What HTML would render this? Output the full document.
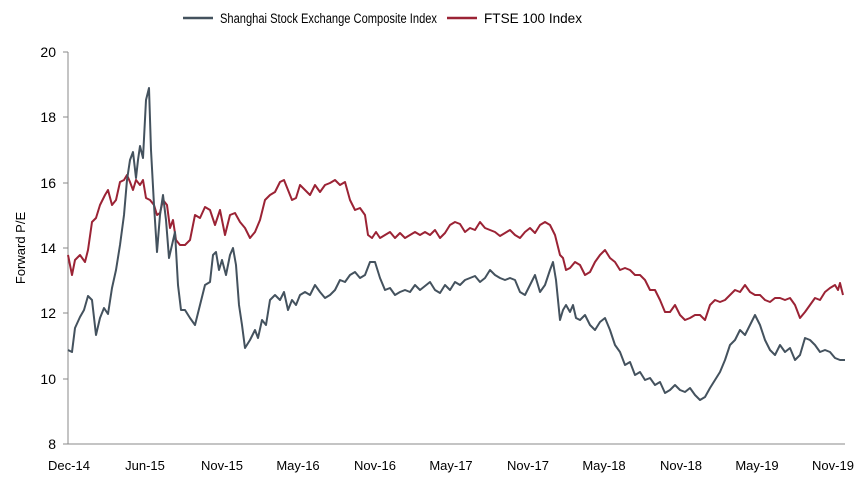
<!DOCTYPE html>
<html><head><meta charset="utf-8"><style>
body{margin:0;background:#fff}
svg{display:block;font-family:"Liberation Sans",sans-serif}
</style></head><body>
<svg width="862" height="483" viewBox="0 0 862 483">
<g fill="#000" font-size="14">
<line x1="183" y1="18" x2="213" y2="18" stroke="#44525e" stroke-width="2.5"/>
<text x="220" y="23" font-size="13.5" textLength="217" lengthAdjust="spacingAndGlyphs">Shanghai Stock Exchange Composite Index</text>
<line x1="447" y1="18" x2="477" y2="18" stroke="#9b2335" stroke-width="2.5"/>
<text x="484" y="23" font-size="13.5" textLength="98" lengthAdjust="spacingAndGlyphs">FTSE 100 Index</text>
</g>
<g stroke="#888" stroke-width="1">
<line x1="68" y1="52" x2="68" y2="444"/>
<line x1="68" y1="444" x2="845" y2="444"/>
<line x1="63" y1="52" x2="68" y2="52"/><line x1="63" y1="117" x2="68" y2="117"/>
<line x1="63" y1="183" x2="68" y2="183"/><line x1="63" y1="248" x2="68" y2="248"/>
<line x1="63" y1="313" x2="68" y2="313"/><line x1="63" y1="379" x2="68" y2="379"/>
<line x1="63" y1="444" x2="68" y2="444"/>
</g>
<g font-size="14" text-anchor="end" fill="#000">
<text x="56" y="57">20</text><text x="56" y="122">18</text><text x="56" y="188">16</text>
<text x="56" y="253">14</text><text x="56" y="318">12</text><text x="56" y="384">10</text><text x="56" y="449">8</text>
</g>
<g font-size="13" text-anchor="middle" fill="#000">
<text x="69" y="470">Dec-14</text><text x="145" y="470">Jun-15</text><text x="222" y="470">Nov-15</text>
<text x="298" y="470">May-16</text><text x="375" y="470">Nov-16</text><text x="451" y="470">May-17</text>
<text x="528" y="470">Nov-17</text><text x="604" y="470">May-18</text><text x="681" y="470">Nov-18</text>
<text x="757" y="470">May-19</text><text x="833" y="470">Nov-19</text>
</g>
<text transform="translate(25,248) rotate(-90)" font-size="13" text-anchor="middle">Forward P/E</text>
<polyline fill="none" stroke="#9b2335" stroke-width="2" stroke-linejoin="round" points="68,255 72,275 75,260 80,255 85,262 88,250 92,222 96,218 100,205 105,195 108,190 112,205 116,200 120,182 124,180 127,175 130,182 133,190 136,180 140,185 143,180 146,198 150,200 154,205 157,215 160,213 163,200 167,205 170,228 173,220 176,240 180,245 185,245 190,240 195,215 200,218 205,207 210,210 215,225 220,210 225,235 230,215 235,213 240,222 245,228 250,238 255,232 260,220 265,200 270,195 275,192 280,182 284,180 288,190 292,200 296,198 300,185 305,190 310,195 315,185 320,192 325,185 330,183 335,180 340,185 345,182 350,200 355,210 360,208 365,215 368,235 372,238 376,232 380,238 385,235 390,232 395,238 400,233 405,238 410,235 415,232 420,235 425,232 430,235 435,230 440,238 445,233 450,225 455,222 460,224 465,232 470,228 475,230 480,222 485,228 490,230 495,232 500,236 505,233 510,230 515,235 520,238 525,232 530,228 535,233 540,225 545,222 550,225 555,235 560,255 563,258 566,270 570,268 575,262 580,265 585,275 590,272 595,262 600,255 605,250 610,258 615,262 620,270 625,268 630,270 635,275 640,275 645,280 650,290 655,290 660,300 665,312 670,312 675,305 680,315 685,320 690,318 695,315 700,315 705,320 710,305 715,300 720,302 725,300 730,295 735,290 740,292 745,285 750,292 755,295 760,295 765,300 770,302 775,298 780,298 785,300 790,298 795,305 800,318 805,312 810,305 815,298 820,300 825,292 830,288 835,285 838,290 840,283 843,295"/>
<polyline fill="none" stroke="#44525e" stroke-width="2" stroke-linejoin="round" points="68,350 72,352 75,328 80,317 84,310 88,296 92,300 96,335 100,318 104,308 108,314 112,288 116,270 120,245 124,215 127,180 130,160 133,152 136,178 138,160 140,146 143,158 146,100 149,88 151,150 154,205 157,252 160,215 163,195 166,220 169,258 172,245 175,232 178,285 181,310 185,310 190,318 195,325 200,305 205,285 210,282 213,255 216,252 219,270 222,260 226,275 230,255 233,248 236,265 239,305 242,325 245,348 250,340 255,330 258,338 262,320 266,325 270,300 275,295 280,300 284,292 288,310 292,300 296,305 300,295 305,292 310,295 315,285 320,292 325,298 330,295 335,290 340,280 345,282 350,275 355,272 360,278 365,275 370,262 375,262 380,278 385,290 390,288 395,295 400,292 405,290 410,292 415,285 420,290 425,286 430,282 435,290 440,293 445,285 450,290 455,282 460,285 465,280 470,278 475,276 480,282 485,278 490,270 495,275 500,278 505,280 510,278 515,280 520,292 525,295 530,285 535,275 540,292 545,285 550,270 553,262 556,280 560,320 563,310 566,305 570,312 573,305 576,318 580,320 585,315 590,325 595,330 600,322 605,318 610,330 615,345 620,352 625,365 630,362 635,375 640,372 645,380 650,378 655,385 660,382 665,393 670,390 675,385 680,390 685,392 690,388 695,395 700,400 705,397 710,388 715,380 720,372 725,360 730,345 735,340 740,330 745,335 750,325 755,315 760,325 765,340 770,350 775,355 780,345 785,352 790,348 795,360 800,355 805,338 810,340 815,345 820,352 825,350 830,352 835,358 840,360 845,360"/>
</svg>
</body></html>
